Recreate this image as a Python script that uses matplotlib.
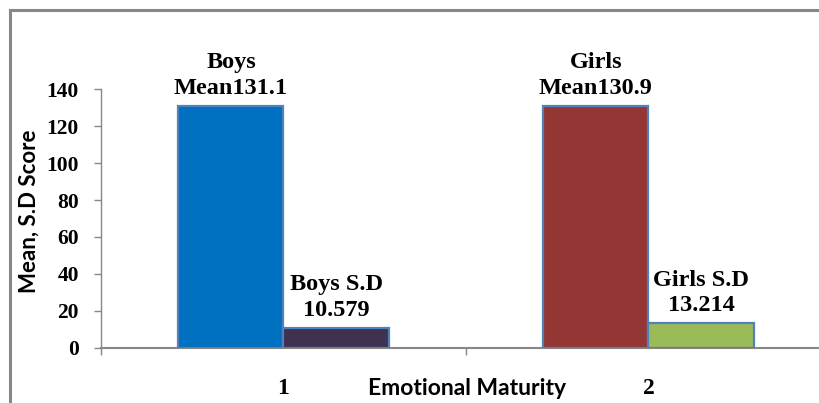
import matplotlib
matplotlib.use("Agg")
import matplotlib.pyplot as plt
from matplotlib.lines import Line2D

categories = ["1", "2"]
series_names = ["Mean", "S.D"]
mean_values = [131.1, 130.9]
sd_values = [10.579, 13.214]
mean_labels = ["Boys\nMean131.1", "Girls\nMean130.9"]
sd_labels = ["Boys S.D\n10.579", "Girls S.D\n13.214"]
mean_colors = ["#0070C0", "#943634"]
sd_colors = ["#403151", "#9BBB59"]
yticks = [0, 20, 40, 60, 80, 100, 120, 140]

W, H = 820, 403
fig = plt.figure(figsize=(W / 100, H / 100), dpi=100)

# outer frame (cropped at right and bottom)
fig.add_artist(Line2D([10 / W, 10 / W], [0, 1 - 10 / H], transform=fig.transFigure,
                      color="#878787", lw=2.2))
fig.add_artist(Line2D([10 / W, 1], [1 - 10 / H, 1 - 10 / H], transform=fig.transFigure,
                      color="#878787", lw=2.2))

left = 101 / W
right = 831 / W
bottom = 1 - 347.7 / H
top = 1 - 89.3 / H
ax = fig.add_axes([left, bottom, right - left, top - bottom])
ax.set_clip_on(False)

x = list(range(1, len(categories) + 1))
w = 0.288
serif = ["Liberation Serif", "DejaVu Serif"]
for i, xi in enumerate(x):
    ax.bar(xi - w / 2, mean_values[i], width=w, color=mean_colors[i],
           edgecolor="#4F81BD", linewidth=1.6, zorder=3)
    ax.bar(xi + w / 2, sd_values[i], width=w, color=sd_colors[i],
           edgecolor="#4F81BD", linewidth=1.6, zorder=3)
    ax.annotate(mean_labels[i], (xi - w / 2, mean_values[i]), xytext=(0, 5),
                textcoords="offset points", ha="center", va="bottom",
                fontsize=17.5, fontweight="bold", family=serif, linespacing=1.3)
    ax.annotate(sd_labels[i], (xi + w / 2, sd_values[i]), xytext=(0, 5),
                textcoords="offset points", ha="center", va="bottom",
                fontsize=17.5, fontweight="bold", family=serif, linespacing=1.3)

ax.set_xlim(0.5, 2.5)
ax.set_ylim(0, 140)
ax.set_yticks(yticks)
ax.set_yticklabels([str(v) for v in yticks], fontsize=15.5, fontweight="bold", family=serif)
ax.set_xticks(x)
ax.set_xticklabels(categories, fontsize=17, fontweight="bold", family=serif)
ax.set_xticks([0.5, 1.5, 2.5], minor=True)
ax.tick_params(axis="x", which="major", length=0, pad=22)
ax.tick_params(axis="x", which="minor", length=5, width=1, color="#878787", direction="out")
ax.tick_params(axis="y", which="major", length=5, width=1, color="#878787", pad=11)

for s in ["top", "right"]:
    ax.spines[s].set_visible(False)
ax.spines["left"].set_color("#878787")
ax.spines["bottom"].set_color("#878787")
ax.spines["left"].set_linewidth(1)
ax.spines["bottom"].set_linewidth(1.5)

fig.text(467 / W, 1 - 378 / H, "Emotional Maturity", ha="center", va="top",
         fontsize=16.5, fontweight="bold", family=["Lato", "DejaVu Sans"])
fig.text(29 / W, 1 - 211 / H, "Mean, S.D Score", ha="center", va="center", rotation=90,
         fontsize=16, fontweight="bold", family=["Lato", "DejaVu Sans"])

fig.savefig("out.png", dpi=100)
